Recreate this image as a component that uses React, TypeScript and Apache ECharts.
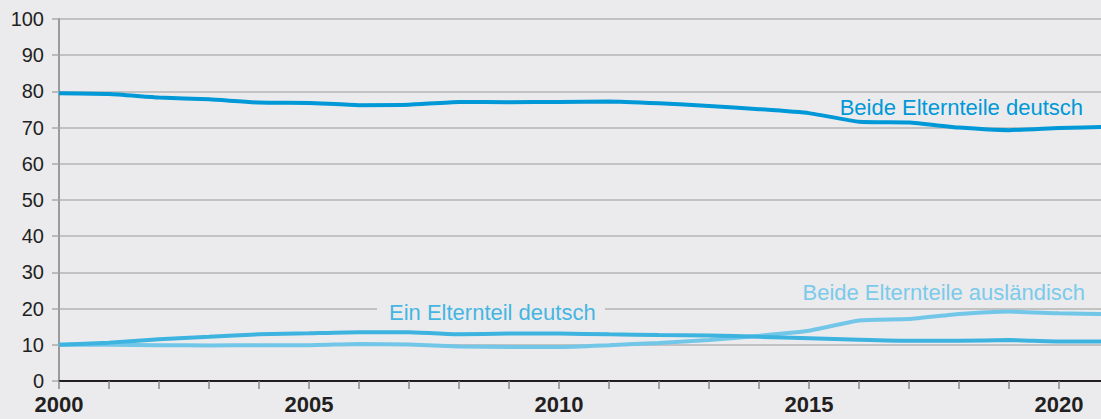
import React, { useEffect, useRef } from "react";
import * as echarts from "echarts";

const years = [2000, 2001, 2002, 2003, 2004, 2005, 2006, 2007, 2008, 2009, 2010, 2011, 2012, 2013, 2014, 2015, 2016, 2017, 2018, 2019, 2020, 2021];
const xLabelYears = [2000, 2005, 2010, 2015, 2020];
const beideDeutsch = [79.5, 79.3, 78.3, 77.8, 76.9, 76.8, 76.2, 76.3, 77.1, 77.0, 77.1, 77.2, 76.7, 76.0, 75.1, 74.0, 71.6, 71.4, 70.0, 69.3, 69.9, 70.2];
const einDeutsch = [10.0, 10.6, 11.5, 12.2, 12.9, 13.2, 13.5, 13.5, 12.9, 13.1, 13.1, 12.9, 12.7, 12.6, 12.2, 11.8, 11.4, 11.1, 11.1, 11.3, 10.9, 10.9];
const beideAusl = [10.0, 10.0, 9.9, 9.8, 9.9, 9.9, 10.2, 10.1, 9.5, 9.4, 9.4, 9.9, 10.5, 11.3, 12.5, 13.9, 16.7, 17.1, 18.5, 19.2, 18.7, 18.5];
const yTicks = [0, 10, 20, 30, 40, 50, 60, 70, 80, 90, 100];
const seriesNames = ["Beide Elternteile deutsch", "Ein Elternteil deutsch", "Beide Elternteile ausländisch"];

const BG = "#ebebee";
const C_DARK = "#0098d6";
const C_MID = "#3db3df";
const C_LIGHT = "#72c6e8";
const FONT = "Liberation Sans";

const pairs = (vals: number[]) => years.map((y, i) => [y, vals[i]]);

export default function App() {
  const ref = useRef<HTMLDivElement>(null);
  useEffect(() => {
    document.body.style.margin = "0";
    const chart = echarts.init(ref.current!, undefined, { renderer: "svg" });
    const xBase = {
      type: "value",
      min: 2000,
      max: 2020.84,
      interval: 1,
      position: "bottom",
    };
    chart.setOption({
      animation: false,
      backgroundColor: BG,
      grid: [
        { left: 59, right: 0, top: 19, bottom: 38, containLabel: false },
        { left: 59, right: 0, top: 19, bottom: 38, containLabel: false },
      ],
      xAxis: [
        {
          ...xBase,
          gridIndex: 0,
          axisLine: { show: true, onZero: false, lineStyle: { color: "#231f20", width: 2 } },
          axisTick: { show: true, length: 8, customValues: years.slice(0, 21), lineStyle: { color: "#8a8a8a", width: 1.5 } },
          splitLine: { show: false },
          axisLabel: { show: false },
        },
        {
          ...xBase,
          gridIndex: 1,
          axisLine: { show: false },
          axisTick: { show: false },
          splitLine: { show: false },
          axisLabel: {
            margin: 12,
            fontFamily: FONT,
            fontSize: 22,
            fontWeight: "bold",
            color: "#231f20",
            customValues: xLabelYears,
            hideOverlap: false,
            formatter: (v: number) => String(v),
          },
        },
      ],
      yAxis: [
        {
          type: "value",
          gridIndex: 0,
          min: yTicks[0],
          max: yTicks[yTicks.length - 1],
          interval: 10,
          axisLine: { show: true, lineStyle: { color: "#9a9a9a", width: 2 } },
          axisTick: { show: true, length: 7, lineStyle: { color: "#aaaaaa", width: 1.5 } },
          splitLine: { show: true, lineStyle: { color: "#b4b4b4", width: 1.5 } },
          axisLabel: { margin: 15, fontFamily: FONT, fontSize: 20, color: "#231f20" },
        },
        {
          type: "value",
          gridIndex: 1,
          min: yTicks[0],
          max: yTicks[yTicks.length - 1],
          interval: 10,
          show: false,
        },
      ],
      series: [
        {
          name: seriesNames[2],
          type: "line",
          data: pairs(beideAusl),
          symbol: "none",
          smooth: 0.15,
          lineStyle: { color: C_LIGHT, width: 4 },
        },
        {
          name: seriesNames[1],
          type: "line",
          data: pairs(einDeutsch),
          symbol: "none",
          smooth: 0.15,
          lineStyle: { color: C_MID, width: 4 },
        },
        {
          name: seriesNames[0],
          type: "line",
          data: pairs(beideDeutsch),
          symbol: "none",
          smooth: 0.15,
          lineStyle: { color: C_DARK, width: 4 },
        },
      ],
      graphic: [
        {
          type: "text",
          right: 18,
          top: 96,
          style: { text: seriesNames[0], fill: C_DARK, font: `22px "${FONT}"` },
        },
        {
          type: "rect",
          left: 377,
          top: 300,
          shape: { width: 228, height: 24 },
          style: { fill: BG },
          z: 50,
        },
        {
          type: "text",
          left: 389,
          top: 301,
          z: 51,
          style: { text: seriesNames[1], fill: "#45b6e1", font: `22px "${FONT}"` },
        },
        {
          type: "text",
          right: 16,
          top: 281,
          style: { text: seriesNames[2], fill: "#7bcaea", font: `22px "${FONT}"` },
        },
      ],
    });
    return () => chart.dispose();
  }, []);
  return <div ref={ref} style={{ width: 1101, height: 419, background: BG }} />;
}
